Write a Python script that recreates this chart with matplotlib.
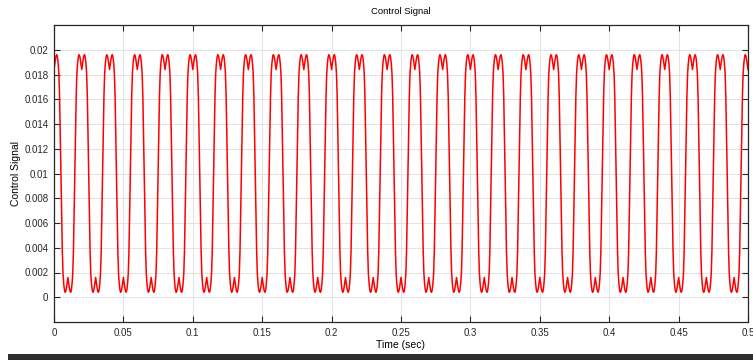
import numpy as np
import matplotlib.pyplot as plt
from matplotlib.patches import Rectangle

cycle_vals = [0.0184, 0.0188, 0.0192, 0.0195, 0.0196, 0.0194, 0.0189, 0.0181, 0.0163, 0.0133,
              0.0100, 0.0067, 0.0037, 0.0019, 0.0011, 0.0006, 0.0004, 0.0005, 0.0008, 0.0012,
              0.0016, 0.0012, 0.0008, 0.0005, 0.0004, 0.0006, 0.0011, 0.0019, 0.0037, 0.0067,
              0.0100, 0.0133, 0.0163, 0.0181, 0.0189, 0.0194, 0.0196, 0.0195, 0.0192, 0.0188]
sample_step = 0.0005
n_cycles = 25

xticks = [0, 0.05, 0.1, 0.15, 0.2, 0.25, 0.3, 0.35, 0.4, 0.45, 0.5]
xtick_labels = ['0', '0.05', '0.1', '0.15', '0.2', '0.25', '0.3', '0.35', '0.4', '0.45', '0.5']
yticks = [0, 0.002, 0.004, 0.006, 0.008, 0.01, 0.012, 0.014, 0.016, 0.018, 0.02]
ytick_labels = ['0', '0.002', '0.004', '0.006', '0.008', '0.01', '0.012', '0.014', '0.016', '0.018', '0.02']

signal = np.array(cycle_vals * n_cycles + cycle_vals[:1])
t = np.arange(len(signal)) * sample_step

plt.rcParams['font.family'] = ['Liberation Sans', 'DejaVu Sans']
txt_col = '#262626'

fig = plt.figure(figsize=(7.53, 3.6), dpi=100)
ax = fig.add_axes([54 / 753, 1 - 322 / 360, 694 / 753, 297 / 360])

ax.plot(t, signal, color='#ff0000', lw=1.1)

ax.set_xlim(0, 0.5)
ax.set_ylim(-0.002, 0.022)
ax.set_xticks(xticks)
ax.set_xticklabels(xtick_labels)
ax.set_yticks(yticks)
ax.set_yticklabels(ytick_labels)
ax.tick_params(direction='in', length=4.5, width=0.8, labelsize=7, colors=txt_col,
               top=True, right=True, pad=4)
ax.grid(True, color='#e3e3e3', lw=0.7)
ax.set_axisbelow(True)
for s in ax.spines.values():
    s.set_color(txt_col)
    s.set_linewidth(0.9)

ax.set_title('Control Signal', fontsize=6.8, color='black', pad=8,
             family=['Liberation Sans Narrow', 'Liberation Sans'])
ax.set_xlabel('Time (sec)', fontsize=7.5, color='black', labelpad=2)
ax.set_ylabel('Control Signal', fontsize=7.5, color='black', labelpad=2)

# dark strip along the bottom edge of the screenshot
fig.add_artist(Rectangle((8 / 753, 0), 1, 6 / 360, transform=fig.transFigure,
                         facecolor='#2e2e2e', edgecolor='none'))

fig.savefig('out.png', dpi=100)
